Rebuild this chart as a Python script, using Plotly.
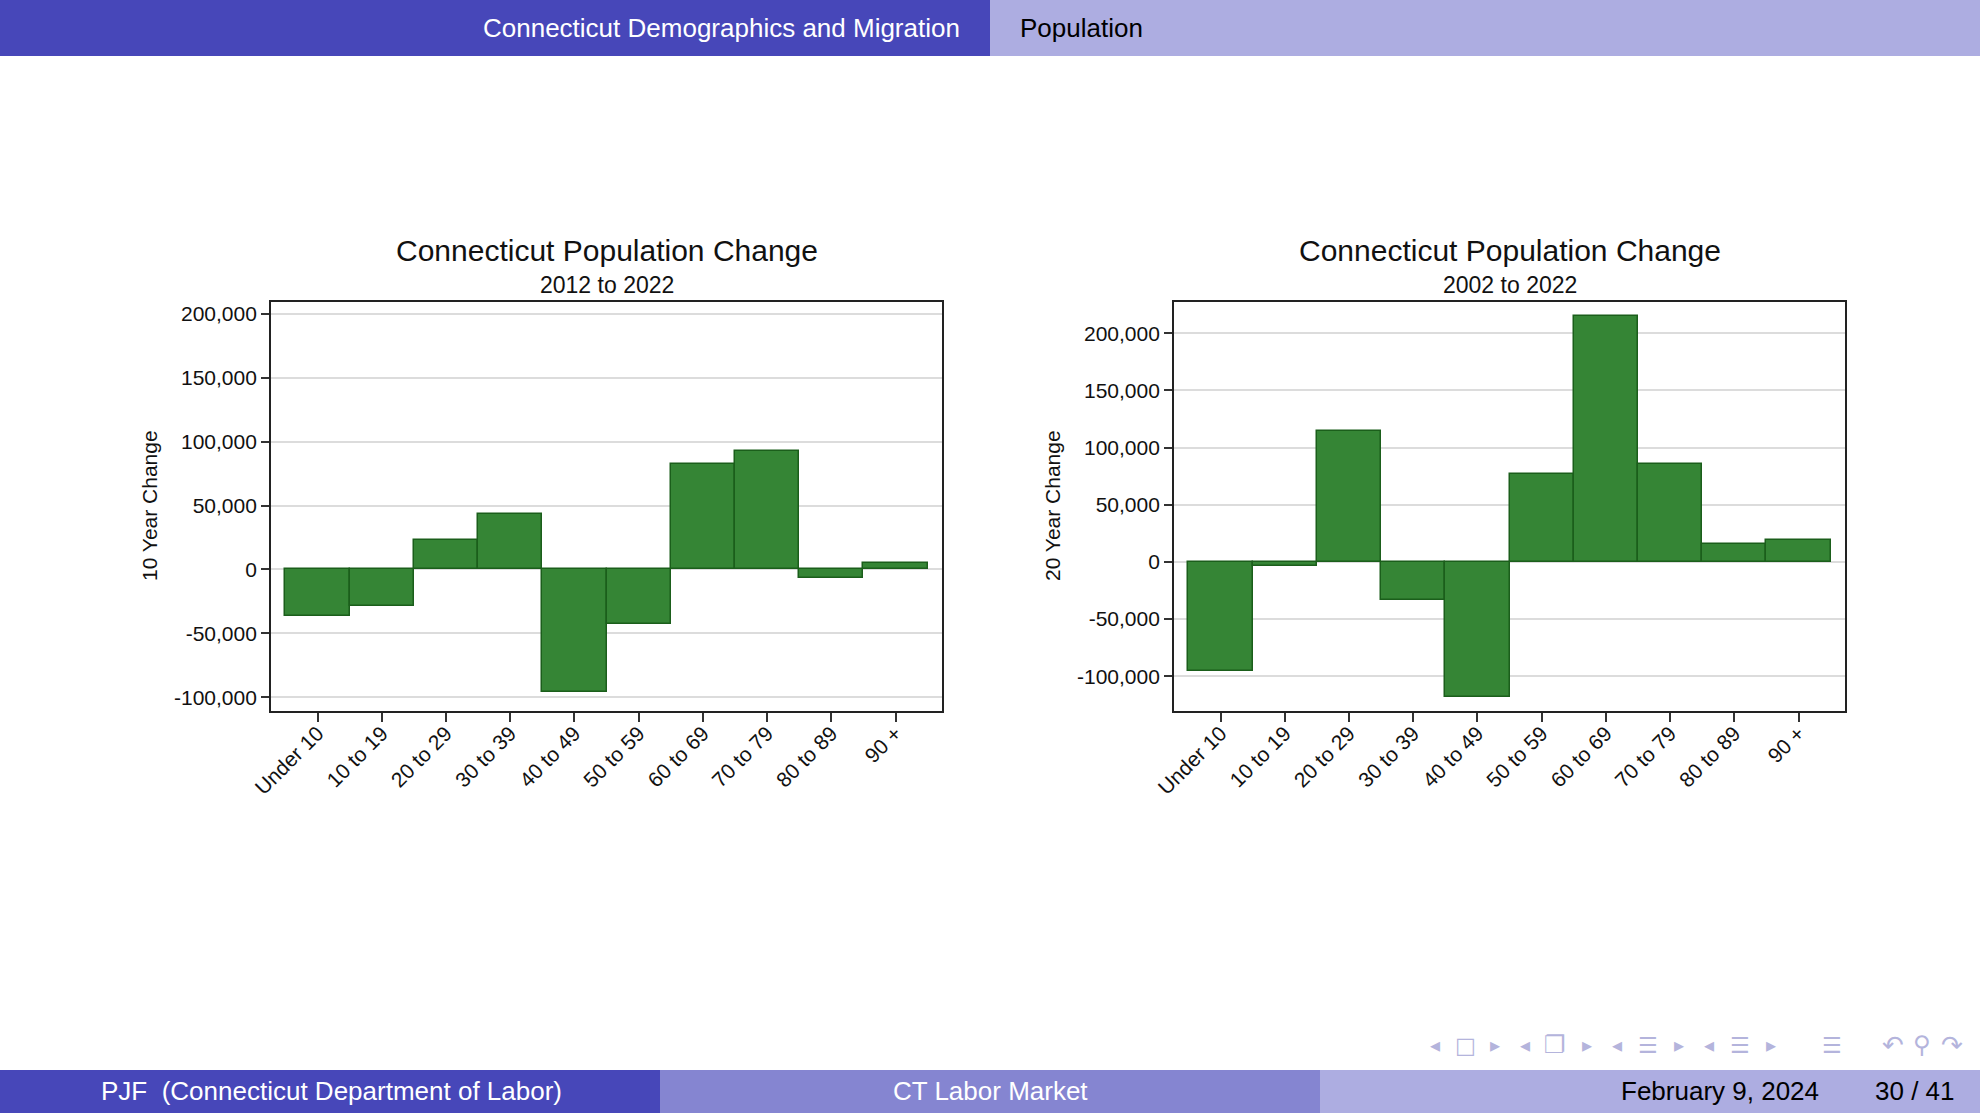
import plotly.graph_objects as go

W, H = 1980, 1113

categories = ["Under 10", "10 to 19", "20 to 29", "30 to 39", "40 to 49",
              "50 to 59", "60 to 69", "70 to 79", "80 to 89", "90 +"]
change_10yr = [-36500, -28700, 23300, 43100, -96300, -42700, 82200, 92900, -6800, 5000]
change_20yr = [-95200, -3800, 114400, -33500, -118500, 76900, 215100, 85900, 15400, 19200]
y_ticks = [-100000, -50000, 0, 50000, 100000, 150000, 200000]
y_tick_labels = ["-100,000", "-50,000", "0", "50,000", "100,000", "150,000", "200,000"]

FONT = "Liberation Sans"
BAR_FILL = "#358535"
BAR_LINE = "#1B5E1B"
DARK = "#4747B9"
MID = "#8585D1"
LIGHT = "#ADADE1"

def px_x(v):
    return v / W

def px_y(v):
    return 1 - v / H

fig = go.Figure()
fig.add_trace(go.Bar(x=categories, y=change_10yr, xaxis="x", yaxis="y",
                     marker=dict(color=BAR_FILL, line=dict(color=BAR_LINE, width=1.5)),
                     showlegend=False))
fig.add_trace(go.Bar(x=categories, y=change_20yr, xaxis="x2", yaxis="y2",
                     marker=dict(color=BAR_FILL, line=dict(color=BAR_LINE, width=1.5)),
                     showlegend=False))

ydom = [px_y(711), px_y(302)]
xdom1 = [px_x(271), px_x(942)]
xdom2 = [px_x(1174), px_x(1845)]

xcommon = dict(type="category", range=[-0.724, 9.724], tickangle=-45, automargin=False,
               ticks="outside", ticklen=9, tickwidth=1.5, tickcolor="#333333",
               ticklabelstandoff=-9,
               showline=True, mirror=True, linecolor="#222222", linewidth=1.8,
               showgrid=False, zeroline=False,
               tickfont=dict(family=FONT, size=21, color="#111111"))
ycommon = dict(tickvals=y_ticks, ticktext=y_tick_labels, automargin=False,
               ticks="outside", ticklen=8, tickwidth=1.5, tickcolor="#333333",
               showline=True, mirror=True, linecolor="#222222", linewidth=1.8,
               showgrid=True, gridcolor="#DCDCDC", gridwidth=2, zeroline=False,
               tickfont=dict(family=FONT, size=21, color="#111111"))

fig.update_layout(
    width=W, height=H, autosize=False, margin=dict(l=0, r=0, t=0, b=0, pad=0),
    paper_bgcolor="white", plot_bgcolor="white", bargap=0,
    xaxis=dict(domain=xdom1, anchor="y", **xcommon),
    yaxis=dict(domain=ydom, anchor="x", range=[-110800, 209400], **ycommon),
    xaxis2=dict(domain=xdom2, anchor="y2", **xcommon),
    yaxis2=dict(domain=ydom, anchor="x2", range=[-130400, 227400], **ycommon),
)

shapes = [
    dict(type="rect", xref="paper", yref="paper", x0=0, x1=px_x(990), y0=px_y(56), y1=1,
         fillcolor=DARK, line=dict(width=0), layer="below"),
    dict(type="rect", xref="paper", yref="paper", x0=px_x(990), x1=1, y0=px_y(56), y1=1,
         fillcolor=LIGHT, line=dict(width=0), layer="below"),
    dict(type="rect", xref="paper", yref="paper", x0=0, x1=px_x(660), y0=0, y1=px_y(1070),
         fillcolor=DARK, line=dict(width=0), layer="below"),
    dict(type="rect", xref="paper", yref="paper", x0=px_x(660), x1=px_x(1320), y0=0, y1=px_y(1070),
         fillcolor=MID, line=dict(width=0), layer="below"),
    dict(type="rect", xref="paper", yref="paper", x0=px_x(1320), x1=1, y0=0, y1=px_y(1070),
         fillcolor=LIGHT, line=dict(width=0), layer="below"),
]
fig.update_layout(shapes=shapes)

def ann(text, x, y, size, color="#111111", xanchor="center", angle=0, family=FONT):
    fig.add_annotation(text=text, x=px_x(x), y=px_y(y), xref="paper", yref="paper",
                       showarrow=False, xanchor=xanchor, yanchor="middle",
                       textangle=angle, font=dict(family=family, size=size, color=color))

# chart titles
ann("Connecticut Population Change", 606.5, 250, 30)
ann("2012 to 2022", 606.5, 285, 23)
ann("Connecticut Population Change", 1509.5, 250, 30)
ann("2002 to 2022", 1509.5, 285, 23)
ann("10 Year Change", 150, 506, 21, angle=-90)
ann("20 Year Change", 1053, 506, 21, angle=-90)

# header
ann("Connecticut Demographics and Migration", 962, 28, 26, color="white", xanchor="right")
ann("Population", 1018, 28, 26, color="black", xanchor="left")

# footer
ann("PJF  (Connecticut Department of Labor)", 331, 1091, 26, color="white")
ann("CT Labor Market", 990, 1091, 26, color="white")
ann("February 9, 2024", 1720, 1091, 26, color="black")
ann("30 / 41", 1915, 1091, 26, color="black")

# navigation symbols
nav = [("◂", 1435, 20), ("□", 1465, 22), ("▸", 1495, 20), ("◂", 1525, 20), ("❐", 1555, 24),
       ("▸", 1587, 20), ("◂", 1617, 20), ("☰", 1648, 22), ("▸", 1679, 20), ("◂", 1709, 20),
       ("☰", 1740, 22), ("▸", 1771, 20), ("☰", 1832, 22), ("↶", 1893, 26), ("⚲", 1922, 24),
       ("↷", 1952, 26)]
for sym, xx, sz in nav:
    ann(sym, xx, 1045, sz, color="#B4B4DC", family="DejaVu Sans")

post = (
    "document.body.style.margin='0';document.body.style.padding='0';"
    "document.body.style.overflow='hidden';"
)
fig.write_html("out.html", config={"displayModeBar": False}, post_script=post)
